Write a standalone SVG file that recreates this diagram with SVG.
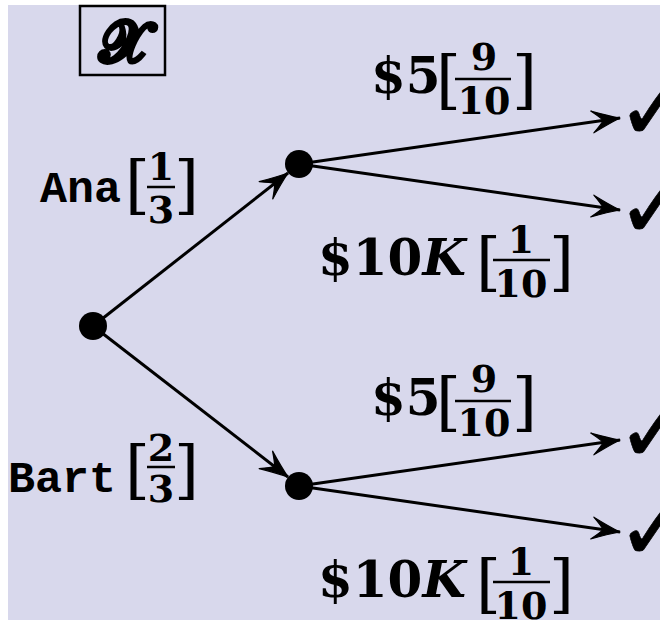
<svg xmlns="http://www.w3.org/2000/svg" width="660" height="620" viewBox="0 0 660 620">
<defs>
<style>
.m{font-family:"DejaVu Serif","Liberation Serif",serif;font-weight:bold;fill:#000}
.big{font-size:50px}
.fr{font-size:38px;text-anchor:middle}
.br{font-family:"DejaVu Serif","Liberation Serif",serif;font-size:64px;fill:#000}
.tt{font-family:"Liberation Mono","DejaVu Sans Mono",monospace;font-weight:bold;font-size:45px;fill:#000}
.ck{font-family:"DejaVu Sans","Noto Sans",sans-serif;font-size:92px;fill:#000;stroke:#000;stroke-width:0.6}
.bar{stroke:#000;stroke-width:2.5}
.edge{stroke:#000;stroke-width:3;fill:none}
</style>
<marker id="arr" markerUnits="userSpaceOnUse" viewBox="-30 -14 32 28" refX="0" refY="0" markerWidth="32" markerHeight="28" orient="auto">
<path d="M0,0 Q-12,-4 -28,-11 Q-19,-3 -17,0 Q-19,3 -28,11 Q-12,4 0,0 Z" fill="#000" stroke="#000" stroke-width="1.2" stroke-linejoin="round"/>
</marker>
</defs>
<rect x="8" y="5" width="652" height="615" fill="#d8d8ec"/>
<g id="title">
<rect x="80" y="6" width="85" height="69" fill="none" stroke="#000" stroke-width="2.5"/>
<text x="122" y="62" class="m" font-size="58" text-anchor="middle" stroke="#000" stroke-width="2">𝓧</text>
</g>
<g id="connectors">
<line class="edge" x1="93" y1="326" x2="288" y2="173" marker-end="url(#arr)"/>
<line class="edge" x1="93" y1="326" x2="288" y2="477" marker-end="url(#arr)"/>
<line class="edge" x1="299" y1="164" x2="620" y2="118" marker-end="url(#arr)"/>
<line class="edge" x1="299" y1="164" x2="620" y2="210" marker-end="url(#arr)"/>
<line class="edge" x1="299" y1="486" x2="620" y2="440" marker-end="url(#arr)"/>
<line class="edge" x1="299" y1="486" x2="620" y2="532" marker-end="url(#arr)"/>
</g>
<g id="root"><circle cx="93" cy="326" r="14" fill="#000"/></g>
<g id="ana"><circle cx="299" cy="164" r="14" fill="#000"/></g>
<g id="bart"><circle cx="299" cy="486" r="14" fill="#000"/></g>
<g id="leaf1"><text x="616" y="140" class="ck">✓</text></g>
<g id="leaf2"><text x="616" y="238" class="ck">✓</text></g>
<g id="leaf3"><text x="616" y="462" class="ck">✓</text></g>
<g id="leaf4"><text x="616" y="560" class="ck">✓</text></g>
<g id="label-ana">
<text x="40" y="202" class="tt">Ana</text>
<text x="125" y="207" class="br">[</text>
<text x="161" y="180" class="m fr">1</text>
<line class="bar" x1="147" y1="187" x2="175" y2="187"/>
<text x="161" y="223" class="m fr">3</text>
<text x="174" y="207" class="br">]</text>
</g>
<g id="label-bart">
<text x="8" y="492" class="tt">Bart</text>
<text x="125" y="492" class="br">[</text>
<text x="161" y="461" class="m fr">2</text>
<line class="bar" x1="147" y1="467" x2="175" y2="467"/>
<text x="161" y="502" class="m fr">3</text>
<text x="174" y="492" class="br">]</text>
</g>
<g id="label-a5">
<text x="371" y="93" class="m big">$5</text>
<text x="436" y="102" class="br">[</text>
<text x="484" y="70" class="m fr">9</text>
<line class="bar" x1="455" y1="79" x2="511" y2="79"/>
<text x="484" y="114" class="m fr">10</text>
<text x="512" y="102" class="br">]</text>
</g>
<g id="label-a10k">
<text x="318" y="275" class="m big">$10<tspan font-style="italic">K</tspan></text>
<text x="476" y="284" class="br">[</text>
<text x="521" y="253" class="m fr">1</text>
<line class="bar" x1="493" y1="260" x2="550" y2="260"/>
<text x="521" y="297" class="m fr">10</text>
<text x="549" y="284" class="br">]</text>
</g>
<g id="label-b5">
<text x="371" y="415" class="m big">$5</text>
<text x="436" y="424" class="br">[</text>
<text x="484" y="392" class="m fr">9</text>
<line class="bar" x1="455" y1="401" x2="511" y2="401"/>
<text x="484" y="436" class="m fr">10</text>
<text x="512" y="424" class="br">]</text>
</g>
<g id="label-b10k">
<text x="318" y="597" class="m big">$10<tspan font-style="italic">K</tspan></text>
<text x="476" y="606" class="br">[</text>
<text x="521" y="575" class="m fr">1</text>
<line class="bar" x1="493" y1="582" x2="550" y2="582"/>
<text x="521" y="619" class="m fr">10</text>
<text x="549" y="606" class="br">]</text>
</g>
</svg>
